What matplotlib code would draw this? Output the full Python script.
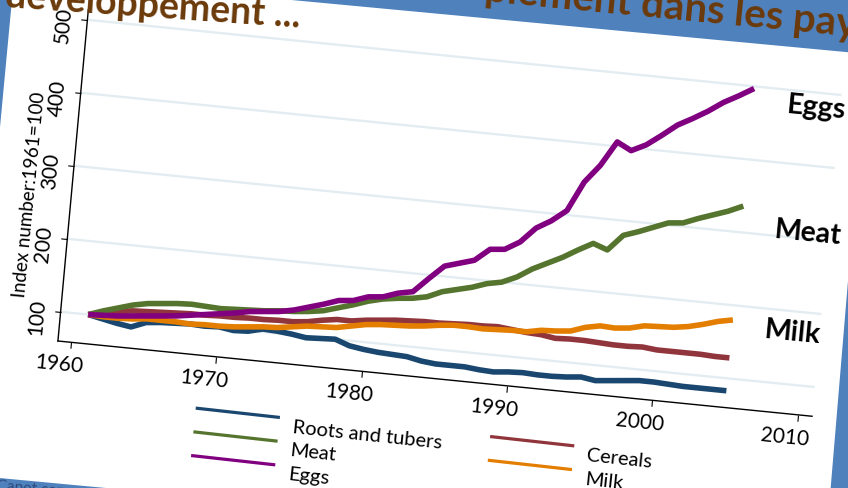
import numpy as np
import matplotlib
matplotlib.use("Agg")
import matplotlib.pyplot as plt
from matplotlib.transforms import Affine2D, offset_copy
from matplotlib.patches import Polygon
from matplotlib.lines import Line2D
import mpl_toolkits.axisartist.floating_axes as floating_axes
from mpl_toolkits.axisartist.grid_finder import FixedLocator, DictFormatter

# index numbers, 1961 = 100
years = np.arange(1961, 2006)
roots = [100, 96, 92, 89, 97, 99, 100, 101, 100, 101,
         98, 99, 104, 103, 101, 98, 99, 100, 93, 90,
         88, 87, 86, 82, 80, 80, 80, 78, 77, 79,
         80, 79, 79, 80, 82, 79, 81, 83, 85, 85,
         84, 83, 83, 83, 83]
cereals = [100, 104, 108, 111, 112, 113, 114, 115, 115, 116,
           116, 117, 117, 118, 118, 120, 124, 127, 127, 130,
           132, 134, 135, 136, 136, 137, 138, 138, 139, 137,
           135, 134, 131, 132, 132, 131, 130, 130, 131, 129,
           129, 129, 129, 128, 128]
meat = [100, 107, 113, 119, 123, 125, 127, 128, 127, 126,
        127, 128, 129, 131, 132, 134, 137, 143, 149, 156,
        161, 164, 166, 170, 179, 184, 189, 196, 200, 209,
        222, 232, 242, 254, 265, 258, 280, 287, 295, 303,
        305, 313, 320, 327, 336]
milk = [100, 99, 99, 100, 102, 102, 102, 101, 102, 102,
        103, 105, 107, 108, 111, 114, 115, 116, 120, 124,
        126, 127, 128, 130, 133, 135, 135, 134, 135, 136,
        136, 140, 141, 143, 150, 154, 153, 155, 160, 161,
        162, 165, 170, 176, 180]
eggs = [100, 101, 102, 104, 106, 108, 110, 113, 116, 119,
        122, 126, 128, 130, 134, 140, 146, 153, 155, 162,
        164, 171, 175, 195, 214, 220, 226, 243, 245, 257,
        278, 290, 306, 347, 372, 406, 396, 406, 421, 437,
        448, 460, 474, 485, 497]

names = ["Roots and tubers", "Cereals", "Meat", "Milk", "Eggs"]
series = [roots, cereals, meat, milk, eggs]
colors = ["#1a476f", "#90353b", "#55752f", "#e37e00", "#800080"]
xticks = [1960, 1970, 1980, 1990, 2000, 2010]
yticks = [100, 200, 300, 400, 500]
ylabel = "Index number:1961=100"

W, H = 848, 489
plt.rcParams['font.family'] = ['Lato', 'DejaVu Sans']

fig = plt.figure(figsize=(W / 100, H / 100), dpi=100)
fig.patch.set_facecolor('#4f81bd')


def fxy(x, y):
    # picture pixel (y down) -> figure fraction
    return x / W, 1 - y / H


# the white slide, a bit rotated on the blue background
slide = [(14.4, -25), (867, 55), (825, 556.5), (-32.7, 476)]
fig.add_artist(Polygon([fxy(*p) for p in slide], closed=True,
                       transform=fig.transFigure, facecolor='white',
                       edgecolor='none', zorder=-5))

# tilted plot frame: (year, index) -> pixels
x0, x1, y0, y1 = 1959.1, 2011, 60, 514
ox, oy = 71, H - 343.3          # where (1960, 60) lands
M = np.array([[14.53, 0.067, 0], [-1.45, 0.73, 0], [0, 0, 1]])
tr = Affine2D().translate(-1960, -60) + Affine2D(M)

corners = tr.transform([[x0, y0], [x1, y0], [x0, y1], [x1, y1]])
lo, hi = corners.min(axis=0), corners.max(axis=0)
c = (lo + hi) / 2
size = (hi - lo) * 1.02
rect = [(ox + c[0] - size[0] / 2) / W, (oy + c[1] - size[1] / 2) / H,
        size[0] / W, size[1] / H]

grid_helper = floating_axes.GridHelperCurveLinear(
    tr, extremes=(x0, x1, y0, y1),
    grid_locator1=FixedLocator(xticks), grid_locator2=FixedLocator(yticks),
    tick_formatter1=DictFormatter({t: str(t) for t in xticks}),
    tick_formatter2=DictFormatter({t: str(t) for t in yticks}))
ax = fig.add_axes(rect, axes_class=floating_axes.FloatingAxes,
                  grid_helper=grid_helper)
ax.patch.set_facecolor('white')
aux = ax.get_aux_axes(tr)

for side in ("top", "right"):
    ax.axis[side].set_visible(False)
for side in ("bottom", "left"):
    a = ax.axis[side]
    a.line.set_linewidth(1.0)
    a.major_ticks.set_tick_out(True)
    a.major_ticks.set_ticksize(4.5)
    a.major_ticks.set_linewidth(1.0)
    a.major_ticklabels.set_visible(False)

ax.grid(True, axis='y', color='#e3edf1', linewidth=1.7)
ax.gridlines.set_zorder(0.5)

for vals, col in zip(series, colors):
    aux.plot(years, vals, color=col, lw=4, solid_joinstyle='round',
             solid_capstyle='butt', zorder=2)

# tick labels and axis title, tilted with the frame
xoff = offset_copy(aux.transData, x=-12.5, y=-21.6, units='dots')
for t in xticks:
    aux.text(t, y0, str(t), transform=xoff, rotation=-5.7,
             rotation_mode='anchor', ha='center', va='center', fontsize=15)
yoff = offset_copy(aux.transData, x=-23.5, y=-4.8, units='dots')
for t in yticks:
    aux.text(x0, t, str(t), transform=yoff, rotation=84.5,
             rotation_mode='anchor', ha='center', va='center', fontsize=15)
aux.text(x0, 256, ylabel,
         transform=offset_copy(aux.transData, x=-42, y=3.9, units='dots'),
         rotation=84.5, rotation_mode='anchor', ha='center', va='center',
         fontsize=13.5)

# end labels
for lab, (px, py) in zip(["Eggs", "Meat", "Milk"],
                         [(786, 113), (774, 238), (764, 338)]):
    fig.text(*fxy(px, py), lab, rotation=-5.5, rotation_mode='anchor',
             ha='left', va='baseline', fontsize=20.5, fontweight='bold')

# legend, 2 columns, tilted
base = np.array([197.3, 409.3])
rowstep = np.array([-2.3, 23.7])
colstep = np.array([294.4, 28.4])
for i, (lab, col) in enumerate(zip(names, colors)):
    p = base + (i // 2) * rowstep + (i % 2) * colstep
    q = p + np.array([81, 9])
    fig.add_artist(Line2D([p[0] / W, q[0] / W], [1 - p[1] / H, 1 - q[1] / H],
                          transform=fig.transFigure, color=col, lw=2.3))
    tp = p + np.array([94.5, 23.5])
    fig.text(*fxy(*tp), lab, rotation=-6, rotation_mode='anchor',
             ha='left', va='baseline', fontsize=14.5)

# slide title, cut by the picture edge
brown = '#6b3a0b'
fig.text(*fxy(300, 28), "développement ...", rotation=-4, rotation_mode='anchor',
         ha='right', va='baseline', fontsize=27, fontweight='bold', color=brown)
fig.text(*fxy(484, 1.5), "plement dans les pays", rotation=-5.5,
         rotation_mode='anchor', ha='left', va='baseline', fontsize=29,
         fontweight='bold', color=brown)
fig.text(*fxy(-4, 490), "Capot consumption", rotation=-5, rotation_mode='anchor',
         ha='left', va='baseline', fontsize=11, color='#2c4a7c')

fig.savefig('out.png', dpi=100, facecolor=fig.get_facecolor())
